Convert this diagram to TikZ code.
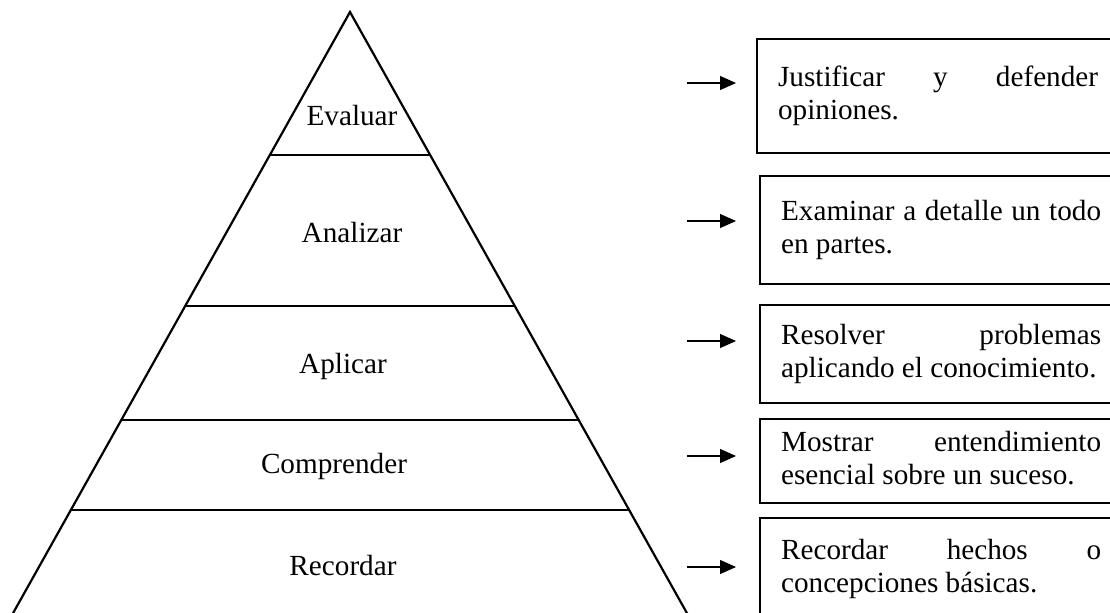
\documentclass[tikz,border=0pt]{standalone}
\usepackage{fontspec}
\setmainfont{Liberation Serif}
\usetikzlibrary{arrows.meta}
\hyphenpenalty=10000

\begin{document}
\begin{tikzpicture}[x=0.5pt,y=-0.5pt,font=\fontsize{14.6pt}{16.5pt}\selectfont]

\tikzset{level/.style = {anchor=base}}
\tikzset{desc/.style = {shape=rectangle,draw,line width=1.1pt,anchor=north west,text width=160pt,inner xsep=10.5pt,align=justify,execute at begin node=\strut,execute at end node=\strut}}
\tikzset{edge/.style = {line width=0.6pt,-{Triangle[length=8pt,width=7pt]}}}

\clip (0,0) rectangle (1110,612);

% pyramid
\coordinate (top) at (350,12);
\coordinate (bl) at (12,615);
\coordinate (br) at (688,615);
\draw[line width=1.1pt] (bl) -- (top) -- (br);
\draw[line width=0.6pt] (270,155) -- (430,155);
\draw[line width=0.6pt] (185,306) -- (515,306);
\draw[line width=0.6pt] (121,420) -- (579,420);
\draw[line width=0.6pt] (71,510) -- (629,510);

\node[level] (ev) at (352,125) {Evaluar};
\node[level] (an) at (352,242) {Analizar};
\node[level] (ap) at (343,373) {Aplicar};
\node[level] (co) at (334,473) {Comprender};
\node[level] (re) at (343,575) {Recordar};

% descriptions
\node[desc,minimum height=57pt] (d1) at (756,38) {Justificar y defender\linebreak opiniones.};
\node[desc,minimum height=54pt] (d2) at (759,175) {Examinar a detalle un todo\linebreak en partes.};
\node[desc,minimum height=49pt] (d3) at (759,304) {Resolver problemas\linebreak aplicando el conocimiento.};
\node[desc,minimum height=42pt] (d4) at (759,418) {Mostrar entendimiento\linebreak esencial sobre un suceso.};
\node[desc,minimum height=51pt] (d5) at (759,517) {Recordar hechos o\linebreak concepciones básicas.};

% arrows
\coordinate (s1) at (687,83);
\coordinate (e1) at (736,83);
\coordinate (s2) at (687,221);
\coordinate (e2) at (736,221);
\coordinate (s3) at (687,341);
\coordinate (e3) at (736,341);
\coordinate (s4) at (687,456);
\coordinate (e4) at (736,456);
\coordinate (s5) at (687,567);
\coordinate (e5) at (736,567);

\draw[edge] (s1) -- (e1);
\draw[edge] (s2) -- (e2);
\draw[edge] (s3) -- (e3);
\draw[edge] (s4) -- (e4);
\draw[edge] (s5) -- (e5);

\end{tikzpicture}
\end{document}
